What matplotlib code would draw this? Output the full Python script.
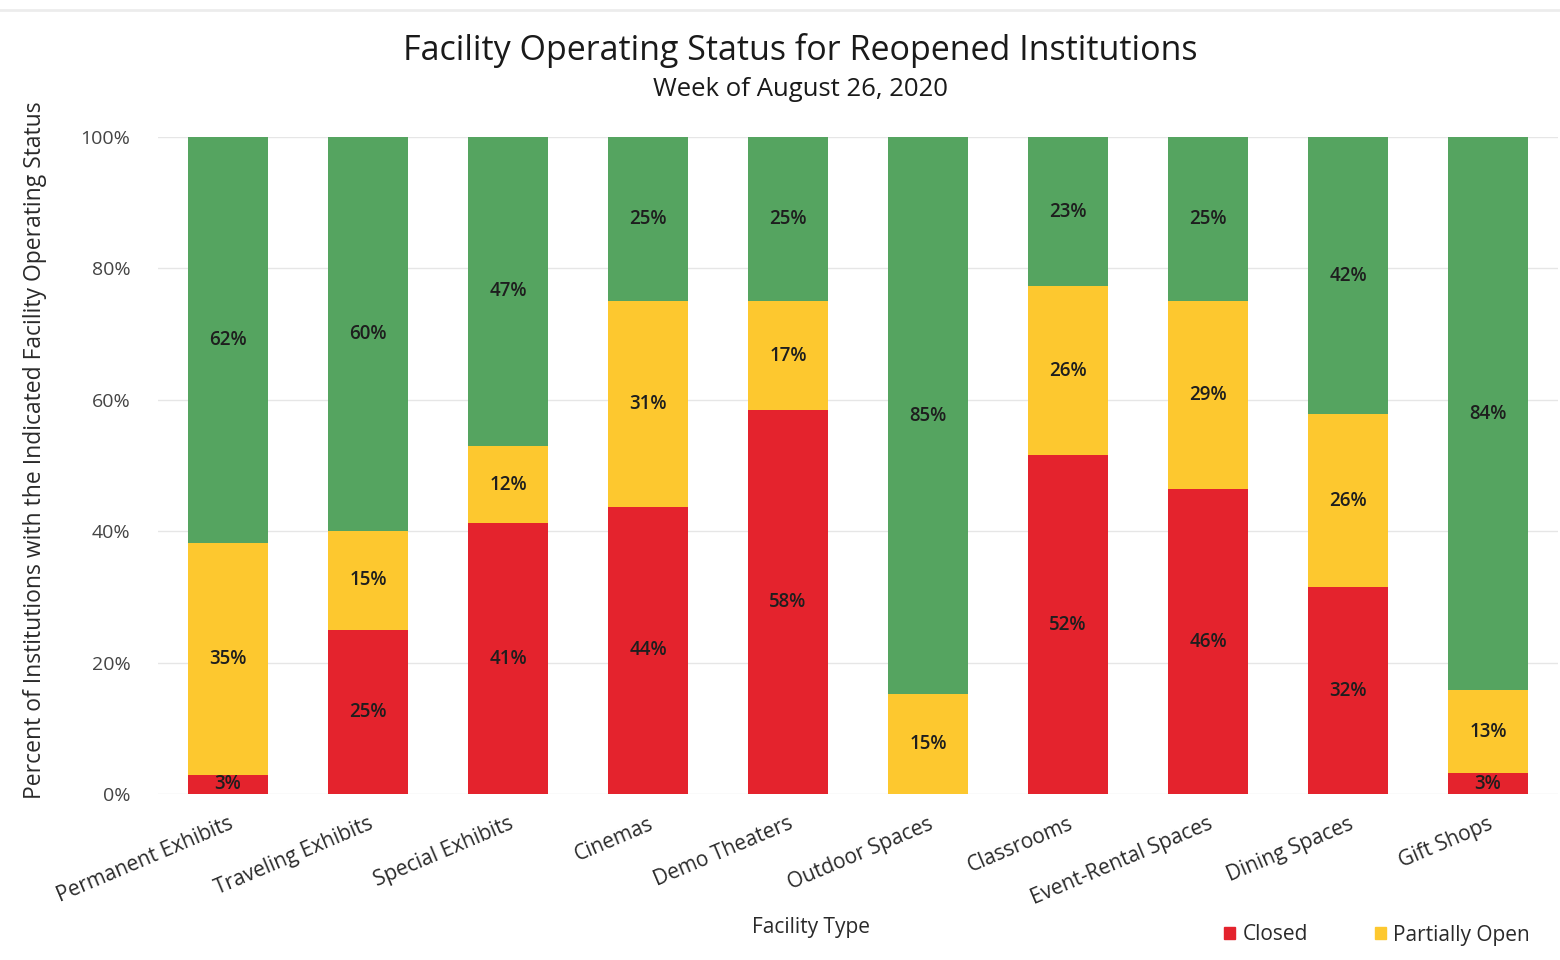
import matplotlib
matplotlib.use("Agg")
from matplotlib import pyplot as plt
from matplotlib.patches import Patch
import numpy as np

# 数据
categories = ["Permanent Exhibits", "Traveling Exhibits", "Special Exhibits", "Cinemas",
              "Demo Theaters", "Outdoor Spaces", "Classrooms", "Event-Rental Spaces",
              "Dining Spaces", "Gift Shops"]
closed = [2.9, 25.0, 41.2, 43.7, 58.4, 0.0, 51.6, 46.4, 31.5, 3.2]
partial = [35.3, 15.0, 11.8, 31.3, 16.6, 15.2, 25.7, 28.6, 26.3, 12.6]
open_ = [61.8, 60.0, 47.0, 25.0, 25.0, 84.8, 22.7, 25.0, 42.2, 84.2]
y_ticks = [0, 20, 40, 60, 80, 100]

RED = "#E4232D"
YELLOW = "#FDC82F"
GREEN = "#55A460"
FONT = ["Open Sans", "DejaVu Sans"]

plt.rcParams['font.family'] = FONT

fig = plt.figure(figsize=(15.6, 9.6), dpi=100)
ax = fig.add_axes([0.1013, 0.1729, 0.8974, 0.6844])

x = np.arange(len(categories))
w = 0.57
bottom = np.zeros(len(categories))
for vals, col in [(closed, RED), (partial, YELLOW), (open_, GREEN)]:
    vals = np.array(vals)
    ax.bar(x, vals, w, bottom=bottom, color=col, zorder=2)
    for xi, b, v in zip(x, bottom, vals):
        if v > 0:
            ax.text(xi, b + v / 2, "{:.0f}%".format(v), ha="center", va="center",
                    fontsize=13.5, color="#1e1e1e", fontweight="semibold", zorder=3)
    bottom += vals

ax.set_xlim(-0.5, 9.5)
ax.set_ylim(0, 100)
ax.set_yticks(y_ticks)
ax.set_yticklabels(["{}%".format(t) for t in y_ticks], fontsize=14, color="#444444")
ax.grid(axis="y", color="#e6e6e6", linewidth=1, zorder=0)
ax.set_axisbelow(True)
for s in ax.spines.values():
    s.set_visible(False)
ax.tick_params(axis="both", length=0)
ax.tick_params(axis="y", pad=20)

ax.set_xticks(x)
ax.set_xticklabels(categories, rotation=23, ha="right", rotation_mode="anchor",
                   fontsize=15, color="#2a2a2a")
ax.tick_params(axis="x", pad=14)

ax.set_ylabel("Percent of Institutions with the Indicated Facility Operating Status",
              fontsize=16.5, color="#2a2a2a")
ax.yaxis.set_label_coords(-0.079, 0.524)

fig.text(0.52, 1 - 927 / 960, "Facility Type", ha="center", va="center",
         fontsize=15, color="#2a2a2a")

fig.text(0.513, 1 - 50 / 960, "Facility Operating Status for Reopened Institutions",
         ha="center", va="center", fontsize=24.5, color="#1a1a1a")
fig.text(0.513, 1 - 90 / 960, "Week of August 26, 2020", ha="center", va="center",
         fontsize=18.5, color="#1a1a1a")

# 顶部浅灰线
fig.add_artist(plt.Line2D([0, 1], [1 - 10 / 960, 1 - 10 / 960], color="#ececec", linewidth=2))

handles = [Patch(color=RED, label="Closed"), Patch(color=YELLOW, label="Partially Open")]
fig.legend(handles=handles, loc="center left", bbox_to_anchor=(1205 / 1560, 1 - 935 / 960),
           ncol=2, frameon=False, fontsize=15, handlelength=0.55, handleheight=0.55,
           columnspacing=3.2, handletextpad=0.35, labelcolor="#2a2a2a")

fig.savefig("out.png", dpi=100)
plt.close()
